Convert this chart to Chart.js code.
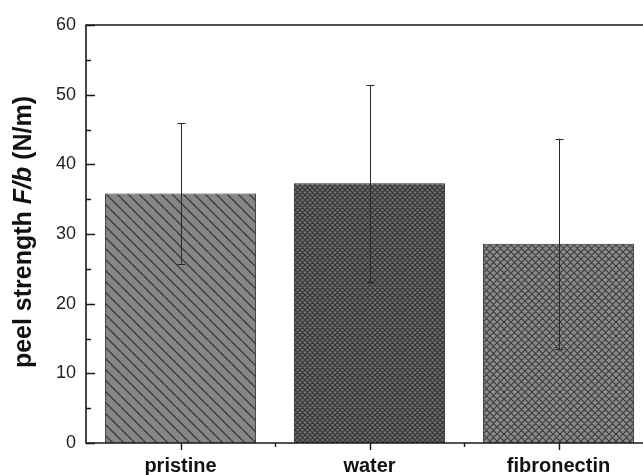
<!DOCTYPE html>
<html>
<head>
<meta charset="utf-8">
<script src="https://cdn.jsdelivr.net/npm/chart.js@4/dist/chart.umd.min.js"></script>
<style>
    html, body { margin: 0; padding: 0; background: #fff; overflow: hidden; }
    #wrap { width: 656px; height: 475px; }
</style>
</head>
<body>
<div id="wrap"><canvas id="peelChart" width="656" height="475"></canvas></div>
<script>
// peel strength per surface treatment
const categories = ["pristine", "water", "fibronectin"];
const peelMeans = [35.8, 37.3, 28.6];
const errLow = [25.7, 23.1, 13.5];
const errHigh = [45.9, 51.4, 43.7];
const yTicks = [0, 10, 20, 30, 40, 50, 60];
const yMinorTicks = [5, 15, 25, 35, 45, 55];

function makePattern(size, bg, line, lineWidth, cross) {
    const c = document.createElement("canvas");
    c.width = size;
    c.height = size;
    const g = c.getContext("2d");
    g.fillStyle = bg;
    g.fillRect(0, 0, size, size);
    g.strokeStyle = line;
    g.lineWidth = lineWidth;
    g.beginPath();
    // "\" direction
    for (let k = -1; k <= 1; k++) {
        g.moveTo(k * size, 0);
        g.lineTo(k * size + size, size);
    }
    if (cross) {
        for (let k = -1; k <= 1; k++) {
            g.moveTo(k * size, size);
            g.lineTo(k * size + size, 0);
        }
    }
    g.stroke();
    return g.createPattern(c, "repeat");
}

const ctx = document.getElementById("peelChart").getContext("2d");
const fills = [
    makePattern(11, "#868686", "#3c3c3c", 1.4, false),
    makePattern(5, "#6e6e6e", "#333333", 1.1, true),
    makePattern(7, "#8a8a8a", "#3e3e3e", 1.2, true),
];

// axis frame with inward y ticks and outward x ticks
const frame = {
    id: "frame",
    afterDatasetsDraw(chart) {
        const { ctx, chartArea: a, scales } = chart;
        const y = scales.y;
        const x = scales.x;
        ctx.save();
        ctx.strokeStyle = "#1a1a1a";
        ctx.lineWidth = 1.6;
        ctx.beginPath();
        ctx.moveTo(a.right, a.top);
        ctx.lineTo(a.left, a.top);
        ctx.lineTo(a.left, a.bottom);
        ctx.lineTo(a.right, a.bottom);
        ctx.lineTo(a.right, a.top);
        ctx.stroke();

        ctx.lineWidth = 1.4;
        ctx.beginPath();
        yTicks.forEach(v => {
            const py = Math.round(y.getPixelForValue(v)) + 0.5;
            ctx.moveTo(a.left, py);
            ctx.lineTo(a.left + 9, py);
        });
        yMinorTicks.forEach(v => {
            const py = Math.round(y.getPixelForValue(v)) + 0.5;
            ctx.moveTo(a.left, py);
            ctx.lineTo(a.left + 5, py);
        });
        categories.forEach((c, i) => {
            const px = Math.round(x.getPixelForValue(i)) + 0.5;
            ctx.moveTo(px, a.bottom);
            ctx.lineTo(px, a.bottom + 7);
            const bx = Math.round(x.getPixelForValue(i + 0.5)) + 0.5;
            ctx.moveTo(bx, a.bottom);
            ctx.lineTo(bx, a.bottom + 4);
        });
        ctx.stroke();
        ctx.restore();
    },
};

// error bars from errLow / errHigh
const errorBars = {
    id: "errorBars",
    afterDatasetsDraw(chart) {
        const { ctx, scales } = chart;
        const meta = chart.getDatasetMeta(0);
        ctx.save();
        ctx.strokeStyle = "#2a2a2a";
        ctx.lineWidth = 1;
        meta.data.forEach((bar, i) => {
            const px = Math.round(bar.x) + 0.5;
            const top = scales.y.getPixelForValue(errHigh[i]);
            const bot = scales.y.getPixelForValue(errLow[i]);
            ctx.beginPath();
            ctx.moveTo(px, top);
            ctx.lineTo(px, bot);
            ctx.moveTo(px - 4, Math.round(top) + 0.5);
            ctx.lineTo(px + 4, Math.round(top) + 0.5);
            ctx.moveTo(px - 4, Math.round(bot) + 0.5);
            ctx.lineTo(px + 4, Math.round(bot) + 0.5);
            ctx.stroke();
        });
        ctx.restore();
    },
};

// rotated y title with italic F/b
const yTitle = {
    id: "yTitle",
    afterDraw(chart) {
        const { ctx } = chart;
        const parts = [
            ["peel strength ", "bold 25px 'Liberation Sans', Arial, sans-serif"],
            ["F/b", "italic bold 25px 'Liberation Sans', Arial, sans-serif"],
            [" (N/m)", "bold 25px 'Liberation Sans', Arial, sans-serif"],
        ];
        ctx.save();
        let total = 0;
        parts.forEach(p => {
            ctx.font = p[1];
            total += ctx.measureText(p[0]).width;
        });
        ctx.translate(31, 232);
        ctx.rotate(-Math.PI / 2);
        ctx.fillStyle = "#111";
        ctx.textBaseline = "alphabetic";
        let x = -total / 2;
        parts.forEach(p => {
            ctx.font = p[1];
            ctx.fillText(p[0], x, 0);
            x += ctx.measureText(p[0]).width;
        });
        ctx.restore();
    },
};

new Chart(ctx, {
    type: "bar",

    data: {
        labels: categories,

        datasets: [
            {
                data: peelMeans,

                backgroundColor: fills,

                borderColor: "#2e2e2e",

                borderWidth: 1,

                barPercentage: 0.8,

                categoryPercentage: 1,
            },
        ],
    },

    options: {
        responsive: false,

        animation: false,

        layout: {
            padding: { top: 25, right: 3, bottom: 0, left: 0 },
        },

        scales: {
            y: {
                min: 0,

                max: 60,

                afterFit: s => { s.width = 86; },

                grid: { display: false, drawTicks: false },

                border: { display: false },

                ticks: {
                    stepSize: 10,

                    padding: 10,

                    color: "#222",

                    font: { family: "'Liberation Sans', Arial, sans-serif", size: 18 },
                },
            },

            x: {
                afterFit: s => { s.height = 32; },

                grid: { display: false, drawTicks: false },

                border: { display: false },

                ticks: {
                    padding: 11,

                    color: "#111",

                    font: { family: "'Liberation Sans', Arial, sans-serif", size: 20, weight: "bold" },
                },
            },
        },

        plugins: {
            legend: { display: false },

            tooltip: { enabled: false },
        },
    },

    plugins: [frame, errorBars, yTitle],
});
</script>
</body>
</html>
